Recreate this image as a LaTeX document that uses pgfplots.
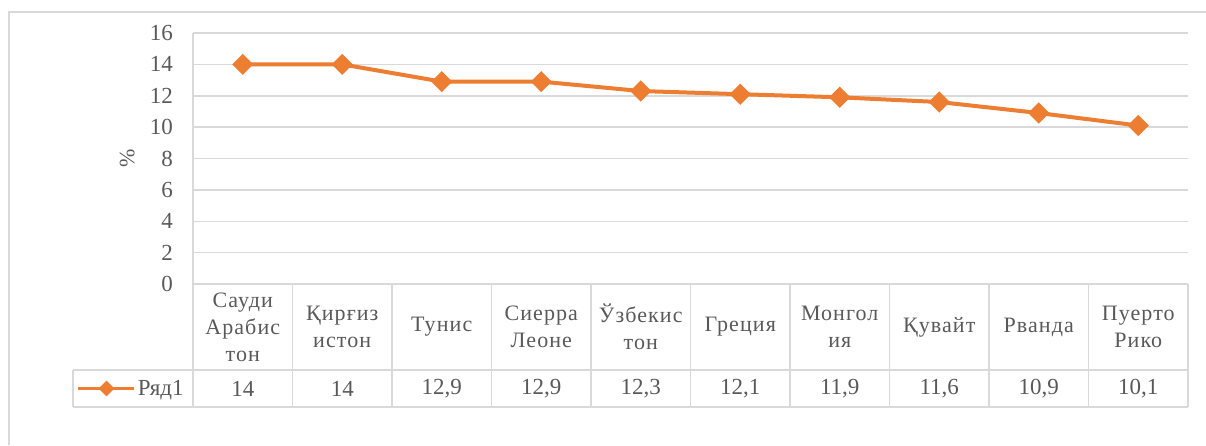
\documentclass[border=0pt]{standalone}
\usepackage{pgfplots}
\pgfplotsset{compat=1.18}
\usepackage{fontspec}
\setmainfont{Liberation Serif}
\definecolor{lineorange}{HTML}{ED7D31}
\definecolor{gridgray}{HTML}{D9D9D9}
\definecolor{txtgray}{HTML}{595959}
\begin{document}
\begin{tikzpicture}[x=1pt,y=1pt]
\useasboundingbox (0,0) rectangle (1206,445);
\draw[gridgray, line width=1.2pt] (9,0) -- (9,433) -- (1206,433);
\begin{axis}[
  at={(193pt,161pt)}, anchor=south west,
  scale only axis, width=995pt, height=251pt,
  xmin=0.5, xmax=10.5, ymin=0, ymax=16,
  ytick={0,2,...,16},
  xtick={1,...,10},
  xticklabels={{Сауди\\Арабис\\тон},{Қирғиз\\истон},{Тунис},{Сиерра\\Леоне},{Ўзбекис\\тон},{Греция},{Монгол\\ия},{Қувайт},{Рванда},{Пуерто\\Рико}},
  xticklabel style={anchor=center, yshift=-43pt, align=center, font=\fontsize{22}{27}\selectfont\addfontfeatures{LetterSpace=5}, text=txtgray, inner sep=0pt},
  yticklabel style={font=\fontsize{23}{26}\selectfont, text=txtgray, inner sep=0pt, xshift=-20pt, anchor=east},
  /pgf/number format/assume math mode=true,
  major tick length=0pt,
  ymajorgrids, grid style={gridgray, line width=1.5pt},
  axis line style={gridgray, line width=1.5pt},
  axis x line*=bottom, axis y line*=left,
  x axis line style={-}, y axis line style={-},
  ylabel={\%}, ylabel style={font=\fontsize{22}{26}\selectfont, text=txtgray, at={(axis description cs:-0.055,0.5)}, anchor=south, rotate=0},
  clip=false,
  legend style={at={(axis description cs:-0.1166,-0.4163)}, anchor=west, draw=none, fill=none, font=\fontsize{23}{26}\selectfont, text=txtgray, inner sep=0pt, outer sep=0pt},
  legend image code/.code={\draw[mark repeat=2,mark phase=2,#1, line width=3pt, mark size=4pt] plot coordinates {(0pt,0pt) (28pt,0pt) (56pt,0pt)};},
]
% table grid
\pgfplotsinvokeforeach{0,...,10}{
  \draw[gridgray, line width=1.5pt] (axis cs:#1+0.5,0) -- ([yshift=-123pt]axis cs:#1+0.5,0);
}
\draw[gridgray, line width=1.5pt] ([xshift=-120pt,yshift=-86pt]axis cs:0.5,0) -- ([yshift=-86pt]axis cs:10.5,0);
\draw[gridgray, line width=1.5pt] ([xshift=-120pt,yshift=-123pt]axis cs:0.5,0) -- ([yshift=-123pt]axis cs:10.5,0);
\draw[gridgray, line width=1.5pt] ([xshift=-120pt,yshift=-86pt]axis cs:0.5,0) -- ([xshift=-120pt,yshift=-123pt]axis cs:0.5,0);
\addplot[lineorange, line width=4pt, mark=square*, mark size=5.5pt, mark options={rotate=45, solid}] coordinates {
 (1,14) (2,14) (3,12.9) (4,12.9) (5,12.3) (6,12.1) (7,11.9) (8,11.6) (9,10.9) (10,10.1)
};
\addlegendentry{Ряд1}
\addplot[draw=none, mark=none, forget plot, nodes near coords, point meta=explicit symbolic,
  nodes near coords style={anchor=center, yshift=-104.5pt, font=\fontsize{23}{26}\selectfont, text=txtgray, inner sep=0pt}] coordinates {
 (1,0)[14] (2,0)[14] (3,0)[12,9] (4,0)[12,9] (5,0)[12,3] (6,0)[12,1] (7,0)[11,9] (8,0)[11,6] (9,0)[10,9] (10,0)[10,1]
};
\end{axis}
\end{tikzpicture}
\end{document}
